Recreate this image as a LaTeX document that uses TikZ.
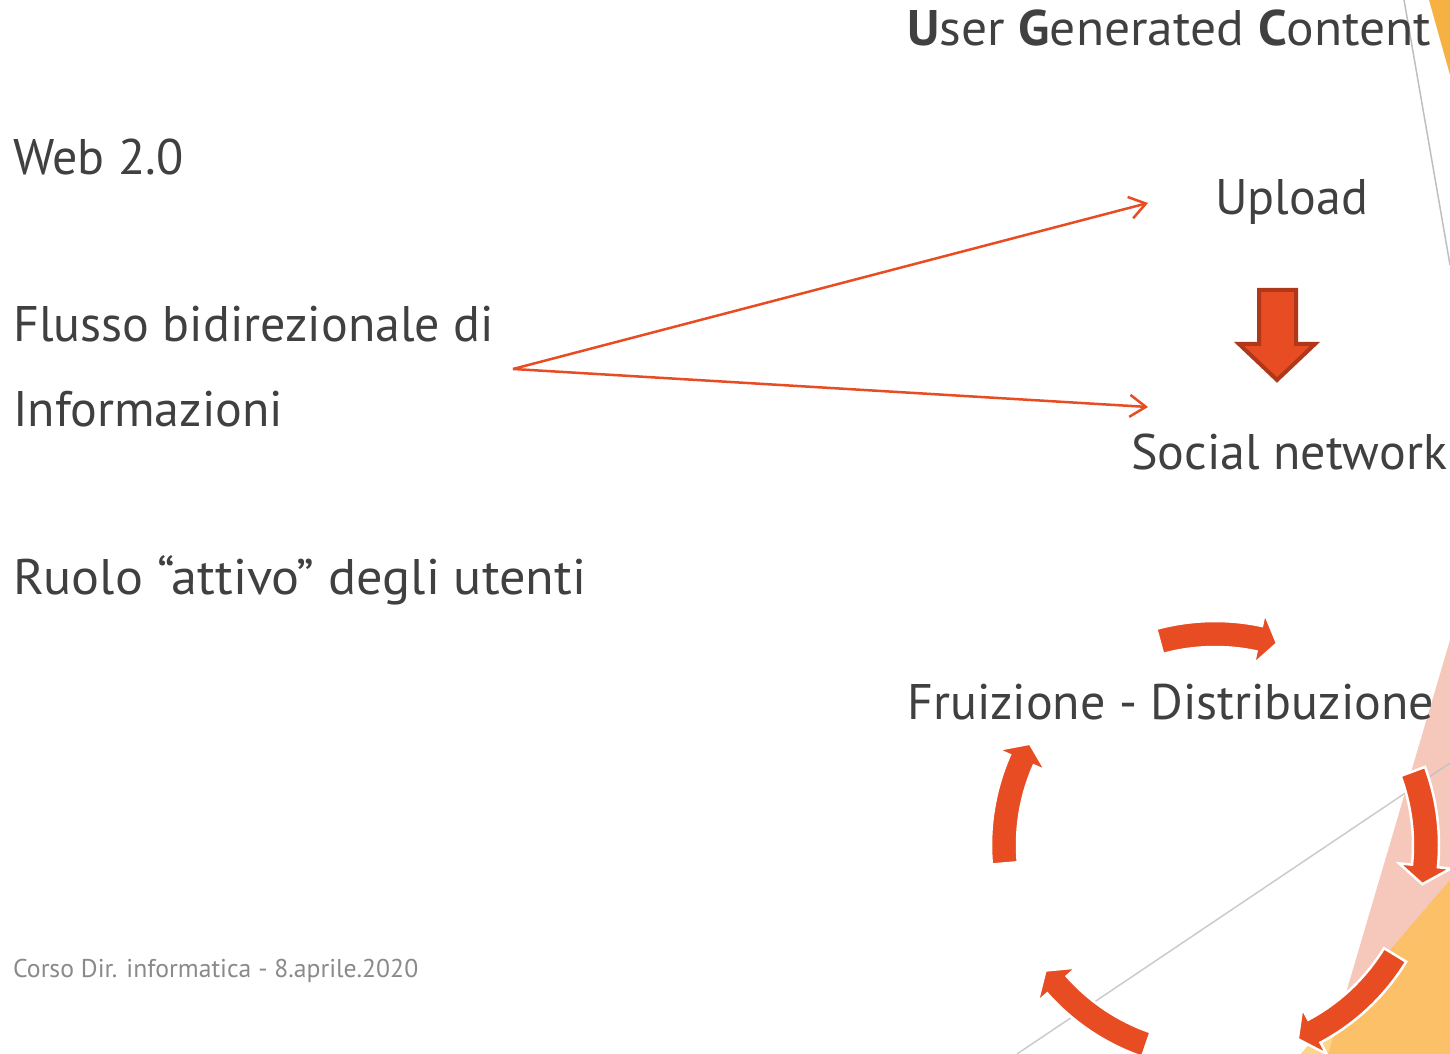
\documentclass[tikz,border=0pt]{standalone}
\usepackage{fontspec}
\setmainfont{PT Sans}
\usetikzlibrary{arrows.meta}
\definecolor{txt}{HTML}{404040}
\definecolor{foot}{HTML}{8A8A8A}
\definecolor{accent}{HTML}{E84C22}
\definecolor{accentdark}{HTML}{B0381A}
\definecolor{pinkbg}{HTML}{F6C8BC}
\definecolor{orangebg}{HTML}{FBC068}
\definecolor{yellowbg}{HTML}{FDD58A}
\definecolor{topor}{HTML}{F6B143}
\definecolor{thingray}{HTML}{BFBFBF}
\newcommand\cycarrow[2]{%
  \fill[accent, draw=white, line width=2.5]
    ([shift={(#1:224)}]cc) arc[start angle=#1, end angle={#2+5}, radius=224]
    -- ([shift={({#2+5}:237)}]cc) -- ([shift={(#2:211)}]cc)
    -- ([shift={({#2+5}:185)}]cc) -- ([shift={({#2+5}:198)}]cc)
    arc[start angle={#2+5}, end angle=#1, radius=198] -- cycle;}
\begin{document}
\begin{tikzpicture}[x=1pt,y=1pt,
  bigtext/.style={anchor=base west, inner sep=0, text=txt, font=\fontsize{50}{60}\selectfont},
  foottext/.style={anchor=base west, inner sep=0, text=foot, font=\fontsize{25.7}{30}\selectfont},
  link/.style={accent, line width=2.5, -{Straight Barb[length=16, width=22, line width=2.5]}}]
\useasboundingbox (0,0) rectangle (1450,1054);
\fill[white] (0,0) rectangle (1450,1054);
% background decoration
\draw[thingray, line width=1.5] (1404,1054) -- (1450,789);
\fill[topor] (1429,1054) -- (1450,1054) -- (1450,979) -- cycle;
\fill[pinkbg] (1450,414) -- (1450,0) -- (1328,0) -- cycle;
\fill[orangebg] (1450,174) -- (1450,0) -- (1301,0) -- cycle;
\fill[yellowbg] (1343,49) -- (1328,0) -- (1301,0) -- cycle;
\draw[black!25, opacity=0.8, line width=1.5] (1017,0) -- (1450,291);
% texts
\node[bigtext, xscale=1.03, transform shape] (ugc) at (907,1008) {\textbf{U}ser \textbf{G}enerated \textbf{C}ontent};
\node[bigtext] (web) at (13,879) {Web 2.0};
\node[bigtext] (flusso) at (13,712) {Flusso bidirezionale di};
\node[bigtext] (info) at (13,627) {Informazioni};
\node[bigtext, xscale=1.045, transform shape] (ruolo) at (13,459) {Ruolo “attivo” degli utenti};
\node[bigtext] (upload) at (1215,839) {Upload};
\node[bigtext] (social) at (1131,584) {Social network};
\node[bigtext] (fruiz) at (907,334) {Fruizione - Distribuzione};
\node[foottext] (footer) at (13,76) {Corso Dir. informatica - 8.aprile.2020};
% connectors
\coordinate (src) at (513,685);
\coordinate (upT) at (1148,851);
\coordinate (snT) at (1148,647);
\draw[link] (src) -- (upT);
\draw[link] (src) -- (snT);
% down block arrow
\draw[fill=accent, draw=accentdark, line width=4]
  (1259,764) -- (1296,764) -- (1296,710) -- (1315,710) -- (1277,674)
  -- (1239,710) -- (1259,710) -- cycle;
% cycle arrows
\coordinate (cc) at (1215,209);
\cycarrow{105.2}{72.9}
\cycarrow{20.4}{-10.7}
\cycarrow{-31.4}{-66.9}
\cycarrow{-109}{-143.5}
\cycarrow{185}{151.3}
\end{tikzpicture}
\end{document}
